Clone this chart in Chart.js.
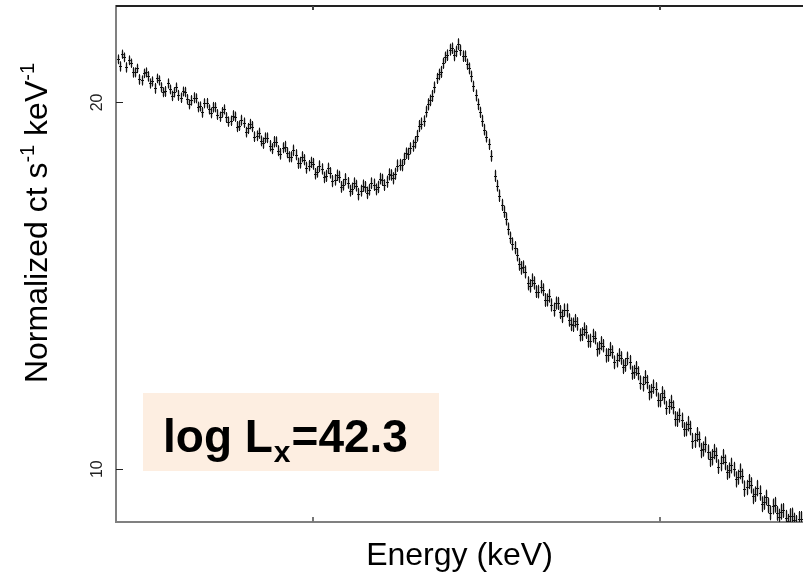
<!DOCTYPE html>
<html>
<head>
<meta charset="utf-8">
<script src="https://cdn.jsdelivr.net/npm/chart.js@4.4.1/dist/chart.umd.min.js"></script>
<style>
	body { margin: 0; background: #fff; }
	#wrap { width: 803px; height: 579px; }
</style>
</head>
<body>
<div id="wrap"><canvas id="spec" width="803" height="579"></canvas></div>
<script>
// bin centres (keV)
const energies = [
	3.875, 3.8875, 3.9, 3.9125, 3.925, 3.9375, 3.95, 3.9625,
	3.975, 3.9875, 4.0, 4.0125, 4.025, 4.0375, 4.05, 4.0625,
	4.075, 4.0875, 4.1, 4.1125, 4.125, 4.1375, 4.15, 4.1625,
	4.175, 4.1875, 4.2, 4.2125, 4.225, 4.2375, 4.25, 4.2625,
	4.275, 4.2875, 4.3, 4.3125, 4.325, 4.3375, 4.35, 4.3625,
	4.375, 4.3875, 4.4, 4.4125, 4.425, 4.4375, 4.45, 4.4625,
	4.475, 4.4875, 4.5, 4.5125, 4.525, 4.5375, 4.55, 4.5625,
	4.575, 4.5875, 4.6, 4.6125, 4.625, 4.6375, 4.65, 4.6625,
	4.675, 4.6875, 4.7, 4.7125, 4.725, 4.7375, 4.75, 4.7625,
	4.775, 4.7875, 4.8, 4.8125, 4.825, 4.8375, 4.85, 4.8625,
	4.875, 4.8875, 4.9, 4.9125, 4.925, 4.9375, 4.95, 4.9625,
	4.975, 4.9875, 5.0, 5.0125, 5.025, 5.0375, 5.05, 5.0625,
	5.075, 5.0875, 5.1, 5.1125, 5.125, 5.1375, 5.15, 5.1625,
	5.175, 5.1875, 5.2, 5.2125, 5.225, 5.2375, 5.25, 5.2625,
	5.275, 5.2875, 5.3, 5.3125, 5.325, 5.3375, 5.35, 5.3625,
	5.375, 5.3875, 5.4, 5.4125, 5.425, 5.4375, 5.45, 5.4625,
	5.475, 5.4875, 5.5, 5.5125, 5.525, 5.5375, 5.55, 5.5625,
	5.575, 5.5875, 5.6, 5.6125, 5.625, 5.6375, 5.65, 5.6625,
	5.675, 5.6875, 5.7, 5.7125, 5.725, 5.7375, 5.75, 5.7625,
	5.775, 5.7875, 5.8, 5.8125, 5.825, 5.8375, 5.85, 5.8625,
	5.875, 5.8875, 5.9, 5.9125, 5.925, 5.9375, 5.95, 5.9625,
	5.975, 5.9875, 6.0, 6.0125, 6.025, 6.0375, 6.05, 6.0625,
	6.075, 6.0875, 6.1, 6.1125, 6.125, 6.1375, 6.15, 6.1625,
	6.175, 6.1875, 6.2, 6.2125, 6.225, 6.2375, 6.25, 6.2625,
	6.275, 6.2875, 6.3, 6.3125, 6.325, 6.3375, 6.35, 6.3625,
	6.375, 6.3875, 6.4, 6.4125, 6.425, 6.4375, 6.45, 6.4625,
	6.475, 6.4875, 6.5, 6.5125, 6.525, 6.5375, 6.55, 6.5625,
	6.575, 6.5875, 6.6, 6.6125, 6.625, 6.6375, 6.65, 6.6625,
	6.675, 6.6875, 6.7, 6.7125, 6.725, 6.7375, 6.75, 6.7625,
	6.775, 6.7875, 6.8, 6.8125, 6.825, 6.8375, 6.85, 6.8625,
	6.875, 6.8875, 6.9, 6.9125, 6.925, 6.9375, 6.95, 6.9625,
	6.975, 6.9875, 7.0, 7.0125, 7.025, 7.0375, 7.05, 7.0625,
	7.075, 7.0875, 7.1, 7.1125, 7.125, 7.1375, 7.15, 7.1625,
	7.175, 7.1875, 7.2, 7.2125, 7.225, 7.2375, 7.25, 7.2625,
	7.275, 7.2875, 7.3, 7.3125, 7.325, 7.3375, 7.35, 7.3625,
	7.375, 7.3875, 7.4, 7.4125, 7.425, 7.4375, 7.45, 7.4625,
	7.475, 7.4875, 7.5, 7.5125, 7.525, 7.5375, 7.55, 7.5625,
	7.575, 7.5875, 7.6, 7.6125, 7.625, 7.6375, 7.65, 7.6625,
	7.675, 7.6875, 7.7, 7.7125, 7.725, 7.7375, 7.75, 7.7625,
	7.775, 7.7875, 7.8, 7.8125
];

// normalized counts s^-1 keV^-1 (null = empty bin)
const counts = [
	21.70, 21.41, 21.91, 21.78, 21.37, 21.66, 21.54, 21.17,
	21.17, 21.33, 20.89, 20.85, 21.13, 21.17, 21.01, 20.73,
	20.81, 20.54, 20.93, 20.85, 20.58, 20.39, 20.42, 20.73,
	20.50, 20.25, 20.39, 20.58, 20.27, 20.18, 20.42, 20.40,
	20.12, 19.93, 20.08, 20.18, 20.16, 19.83, 19.85, 19.63,
	19.97, 19.97, 19.74, 19.61, 19.82, 19.82, 19.55, 19.47,
	19.63, 19.74, 19.44, 19.29, 19.32, 19.51, 19.47, 19.11,
	19.14, 19.34, 19.25, 18.91, 19.04, 19.20, 19.11, 18.75,
	18.78, 18.87, 18.60, 18.52, 18.71, 18.71, 18.43, 18.33,
	18.57, 18.57, 18.26, 18.15, 18.36, 18.40, 18.19, 18.05,
	18.05, 18.27, 18.12, 17.83, 17.85, 18.05, 17.95, 17.68,
	17.75, 17.86, 17.81, 17.48, 17.54, 17.73, 17.64, 17.36,
	17.41, 17.66, 17.51, 17.24, 17.28, 17.43, 17.38, 17.05,
	17.12, 17.30, 17.18, 16.93, 16.99, 17.17, 17.09, 16.82,
	16.93, 17.09, 17.05, 16.86, 16.96, 17.17, 17.12, 16.97,
	17.05, 17.32, 17.28, 17.11, 17.22, 17.46, 17.44, 17.33,
	17.48, 17.75, 17.78, 17.76, 17.98, 18.17, 18.15, 18.34,
	18.43, 18.55, 18.78, 19.13, 19.22, 19.31, 19.66, 19.93,
	20.08, 20.25, 20.58, 20.93, 21.09, 21.19, 21.54, 21.78,
	21.87, 22.10, 22.16, 21.87, 22.03, 22.33, 22.08, 21.83,
	21.83, 21.50, 21.33, 21.01, 20.62, 20.27, 19.93, 19.63,
	19.32, 19.00, 18.75, 18.48, 18.08, null, 17.41, 17.09,
	16.77, 16.48, 16.27, 16.05, 15.75, 15.49, 15.31, 15.20,
	15.00, 14.73, 14.63, 14.66, 14.52, 14.21, 14.14, 14.30,
	14.22, 13.99, 13.99, 14.12, 14.04, 13.77, 13.77, 13.88,
	13.64, 13.52, 13.69, 13.68, 13.46, 13.35, 13.51, 13.50,
	13.26, 13.15, 13.14, 13.24, 13.16, 12.89, 12.91, 13.03,
	12.96, 12.74, 12.75, 12.87, 12.82, 12.54, 12.58, 12.69,
	12.63, 12.40, 12.41, 12.55, 12.48, 12.24, 12.29, 12.41,
	12.34, 12.14, 12.18, 12.33, 12.24, 12.00, 12.02, 12.10,
	11.99, 11.78, 11.75, 11.90, 11.79, 11.56, 11.59, 11.69,
	11.63, 11.40, 11.39, 11.54, 11.46, 11.23, 11.26, 11.35,
	11.24, 11.00, 10.99, 11.07, 10.97, 10.78, 10.79, 10.90,
	10.81, 10.55, 10.56, 10.68, 10.58, 10.36, 10.39, 10.48,
	10.33, 10.19, 10.23, 10.34, 10.27, 10.05, 10.11, 10.24,
	10.13, 9.94, 9.98, 10.07, 10.00, 9.81, 9.85, 9.96,
	9.87, 9.64, 9.66, 9.77, 9.70, 9.50, 9.54, 9.65,
	9.56, 9.36, 9.39, 9.48, 9.34, 9.21, 9.32, 9.35,
	9.20, 9.14, 9.23, 9.25, 9.12, 9.06, 9.16, 9.16,
	9.08, 9.03, 9.11, 9.11
];

// 1-sigma errors
const errors = [
	0.20, 0.21, 0.19, 0.20, 0.21, 0.20, 0.19, 0.21,
	0.20, 0.19, 0.21, 0.20, 0.19, 0.20, 0.21, 0.20,
	0.20, 0.21, 0.19, 0.20, 0.20, 0.19, 0.21, 0.20,
	0.19, 0.20, 0.20, 0.19, 0.21, 0.20, 0.19, 0.20,
	0.20, 0.19, 0.20, 0.21, 0.19, 0.20, 0.19, 0.20,
	0.19, 0.20, 0.19, 0.20, 0.20, 0.19, 0.20, 0.19,
	0.20, 0.19, 0.20, 0.19, 0.19, 0.20, 0.19, 0.20,
	0.19, 0.20, 0.19, 0.19, 0.20, 0.19, 0.20, 0.19,
	0.19, 0.20, 0.19, 0.20, 0.19, 0.19, 0.20, 0.19,
	0.20, 0.19, 0.19, 0.20, 0.19, 0.20, 0.19, 0.19,
	0.19, 0.20, 0.19, 0.19, 0.20, 0.19, 0.19, 0.20,
	0.19, 0.19, 0.20, 0.19, 0.19, 0.20, 0.19, 0.19,
	0.20, 0.19, 0.19, 0.20, 0.19, 0.19, 0.20, 0.19,
	0.19, 0.20, 0.19, 0.19, 0.20, 0.19, 0.19, 0.20,
	0.19, 0.20, 0.19, 0.20, 0.19, 0.19, 0.20, 0.19,
	0.20, 0.19, 0.20, 0.19, 0.20, 0.20, 0.19, 0.20,
	0.20, 0.21, 0.20, 0.20, 0.21, 0.20, 0.21, 0.21,
	0.21, 0.22, 0.21, 0.22, 0.22, 0.21, 0.22, 0.23,
	0.22, 0.23, 0.23, 0.22, 0.23, 0.24, 0.23, 0.24,
	0.24, 0.25, 0.24, 0.25, 0.24, 0.25, 0.24, 0.24,
	0.24, 0.23, 0.24, 0.23, 0.22, 0.23, 0.22, 0.21,
	0.22, 0.21, 0.21, 0.20, 0.20, 0.20, 0.20, 0.19,
	0.20, 0.19, 0.19, 0.20, 0.19, 0.18, 0.19, 0.19,
	0.19, 0.18, 0.19, 0.18, 0.18, 0.19, 0.18, 0.18,
	0.18, 0.17, 0.18, 0.18, 0.17, 0.18, 0.17, 0.18,
	0.17, 0.18, 0.17, 0.17, 0.18, 0.17, 0.17, 0.18,
	0.17, 0.17, 0.18, 0.17, 0.17, 0.16, 0.17, 0.17,
	0.17, 0.16, 0.17, 0.17, 0.16, 0.17, 0.16, 0.17,
	0.16, 0.17, 0.16, 0.17, 0.16, 0.16, 0.17, 0.16,
	0.16, 0.17, 0.16, 0.16, 0.17, 0.16, 0.16, 0.17,
	0.16, 0.16, 0.17, 0.16, 0.16, 0.17, 0.16, 0.16,
	0.16, 0.16, 0.15, 0.16, 0.16, 0.15, 0.16, 0.16,
	0.15, 0.16, 0.16, 0.15, 0.16, 0.15, 0.15, 0.16,
	0.15, 0.16, 0.15, 0.15, 0.16, 0.15, 0.15, 0.16,
	0.15, 0.15, 0.16, 0.15, 0.15, 0.14, 0.15, 0.15,
	0.15, 0.14, 0.15, 0.15, 0.14, 0.15, 0.14, 0.15,
	0.14, 0.15, 0.14, 0.14, 0.15, 0.14, 0.14, 0.15,
	0.14, 0.14, 0.13, 0.14, 0.14, 0.13, 0.14, 0.14,
	0.13, 0.14, 0.14, 0.13, 0.14, 0.13, 0.13, 0.14,
	0.13, 0.14, 0.13, 0.13
];

const xTicks = [5, 7];
const yTicks = [10, 20];
const yLabels = ['10', '20'];
const xTitle = 'Energy (keV)';
const yTitleParts = [['Normalized ct s', false], ['-1', true], [' keV', false], ['-1', true]];
const noteMain = 'log L';
const noteSub = 'x';
const noteTail = '=42.3';

const FONT = '"Liberation Sans", Arial, Helvetica, sans-serif';

let errorBars = {
	id: 'errorBars',
	afterDatasetsDraw(chart) {
		const { ctx, chartArea, scales: { x, y } } = chart;
		ctx.save();
		ctx.beginPath();
		ctx.rect(chartArea.left, chartArea.top, chartArea.right - chartArea.left, chartArea.bottom - chartArea.top);
		ctx.clip();
		chart.data.datasets[0].data.forEach((pt, i) => {
			if (pt.y == null) return;
			let px = Math.round(x.getPixelForValue(pt.x)) + 0.5;
			let py = Math.round(y.getPixelForValue(pt.y)) + 0.5;
			let hi = y.getPixelForValue(pt.y + errors[i]);
			let lo = y.getPixelForValue(pt.y - errors[i]);
			ctx.strokeStyle = 'rgba(110,110,110,0.6)';
			ctx.lineWidth = 2;
			ctx.beginPath();
			ctx.moveTo(px, hi + 1);
			ctx.lineTo(px, lo - 1);
			ctx.stroke();
			ctx.strokeStyle = '#111';
			ctx.lineWidth = 1;
			ctx.beginPath();
			ctx.moveTo(px, hi);
			ctx.lineTo(px, lo);
			ctx.moveTo(px - 1.5, py);
			ctx.lineTo(px + 1.5, py);
			ctx.stroke();
		});
		ctx.restore();
	}
};

let frame = {
	id: 'frame',
	afterDraw(chart) {
		const { ctx, chartArea, scales: { x, y } } = chart;
		const { left, right, top, bottom } = chartArea;
		ctx.save();

		// top border
		ctx.strokeStyle = '#222';
		ctx.lineWidth = 2;
		ctx.beginPath();
		ctx.moveTo(left, top);
		ctx.lineTo(right, top);
		ctx.stroke();

		// inward tick marks
		ctx.lineWidth = 2;
		x.ticks.forEach(t => {
			let px = Math.round(x.getPixelForValue(t.value));
			ctx.strokeStyle = '#777';
			ctx.beginPath();
			ctx.moveTo(px, bottom);
			ctx.lineTo(px, bottom - 5);
			ctx.stroke();
			ctx.strokeStyle = '#444';
			ctx.beginPath();
			ctx.moveTo(px, top);
			ctx.lineTo(px, top + 4);
			ctx.stroke();
		});
		ctx.strokeStyle = '#222';
		ctx.lineWidth = 1;
		y.ticks.forEach(t => {
			let py = Math.round(y.getPixelForValue(t.value)) + 0.5;
			ctx.beginPath();
			ctx.moveTo(left, py);
			ctx.lineTo(left + 7, py);
			ctx.stroke();
		});

		// y tick labels, rotated
		ctx.fillStyle = '#222';
		ctx.font = '16px ' + FONT;
		ctx.textAlign = 'center';
		ctx.textBaseline = 'middle';
		y.ticks.forEach(t => {
			let idx = yTicks.indexOf(t.value);
			ctx.save();
			ctx.translate(left - 18, y.getPixelForValue(t.value));
			ctx.rotate(-Math.PI / 2);
			ctx.fillText(yLabels[idx], 0, 0);
			ctx.restore();
		});

		// x title
		ctx.fillStyle = '#000';
		ctx.font = '32px ' + FONT;
		ctx.textBaseline = 'alphabetic';
		ctx.fillText(xTitle, (left + right) / 2, 565);

		// y title with superscripts
		ctx.save();
		ctx.translate(47, 223);
		ctx.rotate(-Math.PI / 2);
		ctx.textAlign = 'left';
		let total = 0;
		yTitleParts.forEach(([txt, sup]) => {
			ctx.font = (sup ? '20px ' : '32px ') + FONT;
			total += ctx.measureText(txt).width;
		});
		let cx = -total / 2;
		yTitleParts.forEach(([txt, sup]) => {
			ctx.font = (sup ? '20px ' : '32px ') + FONT;
			ctx.fillText(txt, cx, sup ? -13 : 0);
			cx += ctx.measureText(txt).width;
		});
		ctx.restore();

		// luminosity note
		ctx.fillStyle = '#fdeee1';
		ctx.fillRect(left + 27, bottom - 129, 296, 78);
		ctx.fillStyle = '#000';
		ctx.textAlign = 'left';
		let nx = left + 47;
		let ny = bottom - 70;
		ctx.font = 'bold 46px ' + FONT;
		ctx.fillText(noteMain, nx, ny);
		nx += ctx.measureText(noteMain).width;
		ctx.font = 'bold 30px ' + FONT;
		ctx.fillText(noteSub, nx + 1, ny + 10);
		nx += ctx.measureText(noteSub).width + 2;
		ctx.font = 'bold 46px ' + FONT;
		ctx.fillText(noteTail, nx, ny);

		ctx.restore();
	}
};

const ctx = document.getElementById('spec');
const spectrum = new Chart(ctx, {
	type: 'scatter',
	data: {
		datasets: [{
			data: energies.map((e, i) => ({ x: e, y: counts[i] })),
			pointRadius: 0,
			showLine: false
		}]
	},
	options: {
		responsive: false,
		animation: false,
		devicePixelRatio: 1,
		layout: { padding: { top: 6, right: 0, left: 0, bottom: 0 } },
		plugins: {
			legend: { display: false },
			tooltip: { enabled: false }
		},
		scales: {
			x: {
				type: 'linear',
				min: 3.865,
				max: 7.825,
				grid: { display: false, drawTicks: false },
				border: { display: true, color: '#808080', width: 2 },
				ticks: { display: false },
				afterBuildTicks: (scale) => { scale.ticks = xTicks.map(v => ({ value: v })); },
				afterFit: (scale) => { scale.height = 57; }
			},
			y: {
				type: 'logarithmic',
				min: 9.05,
				max: 24.0,
				grid: { display: false, drawTicks: false },
				border: { display: true, color: '#808080', width: 2 },
				ticks: { display: false },
				afterBuildTicks: (scale) => { scale.ticks = yTicks.map(v => ({ value: v })); },
				afterFit: (scale) => { scale.width = 116; }
			}
		}
	},
	plugins: [errorBars, frame]
});
</script>
</body>
</html>
